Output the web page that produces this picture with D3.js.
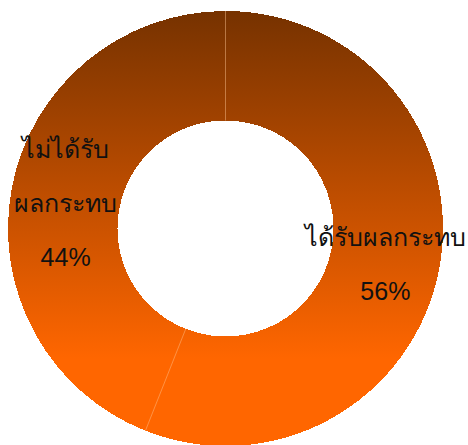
<!DOCTYPE html>
<html>
<head>
<meta charset="utf-8">
<script src="https://cdn.jsdelivr.net/npm/d3@7"></script>
<style>
  body { margin: 0; background: #fff; }
  svg { display: block; }
  .slice-label { font-family: "Liberation Sans", Arial, sans-serif; font-size: 25px; fill: #111; }
</style>
</head>
<body>
<div id="chart"></div>
<script>
// slice data, clockwise from 12 o'clock
var categories = [["ได้รับผลกระทบ"], ["ไม่ได้รับ", "ผลกระทบ"]];
var values = [56, 44];
var pctLabels = ["56%", "44%"];

var width = 468, height = 445;
var cx = 225.5, cy = 228.5;
var outerR = 217.5, innerR = 108;

var svg = d3.select("#chart").append("svg")
	.attr("width", width)
	.attr("height", height);

// vertical gradient, in the donut group's coords
var grad = svg.append("defs").append("linearGradient")
	.attr("id", "fillGrad")
	.attr("gradientUnits", "userSpaceOnUse")
	.attr("x1", 0).attr("x2", 0)
	.attr("y1", -outerR).attr("y2", outerR);
grad.append("stop").attr("offset", 0).attr("stop-color", "#763200");
grad.append("stop").attr("offset", 0.8).attr("stop-color", "#ff6600");
grad.append("stop").attr("offset", 1).attr("stop-color", "#ff6600");

var pie = d3.pie()
	.sort(null)
	.startAngle(0)
	.endAngle(Math.PI * 2)
	.value(function(d){ return d; });

var arc = d3.arc()
	.innerRadius(innerR)
	.outerRadius(outerR);

var g = svg.append("g")
	.attr("transform", "translate(" + cx + "," + cy + ")");

var slices = g.selectAll("g.slice")
	.data(pie(values))
	.enter()
	.append("g")
	.attr("class", "slice");

slices.append("path")
	.attr("d", arc)
	.attr("fill", "url(#fillGrad)")
	.style("shape-rendering", "crispEdges");

// faint separators between slices
g.selectAll("line.sep")
	.data(pie(values))
	.enter()
	.append("line")
	.attr("class", "sep")
	.attr("x1", function(d){ return innerR * Math.sin(d.startAngle); })
	.attr("y1", function(d){ return -innerR * Math.cos(d.startAngle); })
	.attr("x2", function(d){ return outerR * Math.sin(d.startAngle); })
	.attr("y2", function(d){ return -outerR * Math.cos(d.startAngle); })
	.attr("stroke", "rgba(255,200,150,0.45)")
	.attr("stroke-width", 1);

var lineH = 54;
slices.append("text")
	.attr("class", "slice-label")
	.attr("text-anchor", "middle")
	.each(function(d, i){
		var c = arc.centroid(d);
		var lines = categories[i].concat([pctLabels[i]]);
		var t = d3.select(this);
		var y0 = c[1] - (lines.length - 1) * lineH / 2 + 14;
		lines.forEach(function(s, k){
			t.append("tspan")
				.attr("x", c[0])
				.attr("y", y0 + k * lineH)
				.text(s);
		});
	});
</script>
</body>
</html>
